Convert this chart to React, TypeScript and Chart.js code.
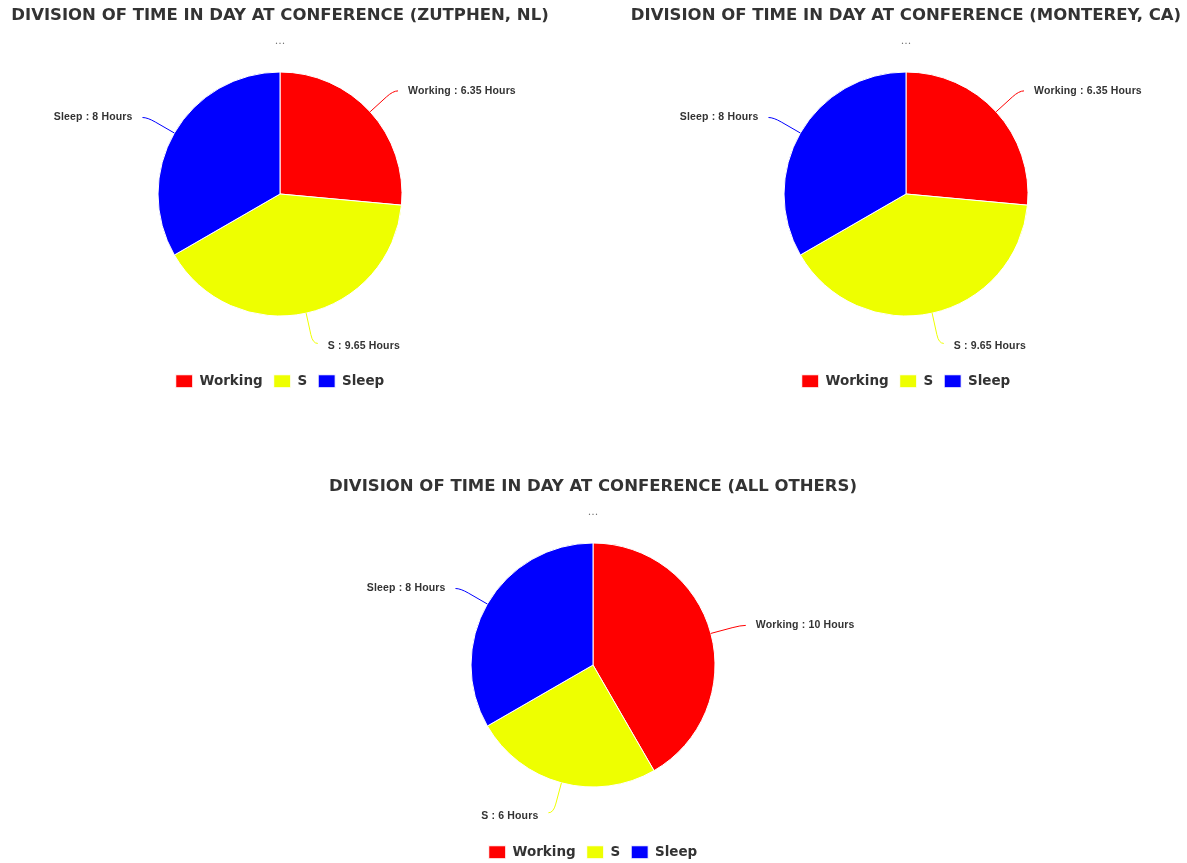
import React, { useEffect, useRef } from 'react';
import { Chart, registerables } from 'chart.js';

Chart.register(...registerables);

const categories = ['Working', 'S', 'Sleep'];
const zutphenHours = [6.35, 9.65, 8];
const montereyHours = [6.35, 9.65, 8];
const othersHours = [10, 6, 8];
const sliceColors = ['#FF0000', '#EEFF00', '#0000FF'];
const titleZutphen = 'DIVISION OF TIME IN DAY AT CONFERENCE (ZUTPHEN, NL)';
const titleMonterey = 'DIVISION OF TIME IN DAY AT CONFERENCE (MONTEREY, CA)';
const titleOthers = 'DIVISION OF TIME IN DAY AT CONFERENCE (ALL OTHERS)';
const subtitleText = '...';
const unitText = 'Hours';

const calloutPlugin = {
  id: 'callouts',
  afterDatasetsDraw(chart: any) {
    const ctx = chart.ctx;
    const meta = chart.getDatasetMeta(0);
    const ds = chart.data.datasets[0];
    const labels = chart.data.labels;
    ctx.save();
    meta.data.forEach((arc: any, i: number) => {
      const p = arc.getProps(['x', 'y', 'startAngle', 'endAngle', 'outerRadius'], true);
      const mid = (p.startAngle + p.endAngle) / 2;
      const cx = Math.cos(mid);
      const cy = Math.sin(mid);
      const r = p.outerRadius;
      const ex = p.x + r * cx;
      const ey = p.y + r * cy;
      const ax = p.x + (r + 22) * cx;
      const ay = p.y + (r + 22) * cy;
      const kx = p.x + (r + 31) * cx;
      const ky = p.y + (r + 31) * cy;
      const side = cx >= 0 ? 1 : -1;
      const endX = kx + side * 5;
      ctx.strokeStyle = ds.backgroundColor[i];
      ctx.lineWidth = 1;
      ctx.beginPath();
      ctx.moveTo(ex, ey);
      ctx.lineTo(ax, ay);
      ctx.quadraticCurveTo(kx, ky, endX, ky);
      ctx.stroke();
      ctx.fillStyle = '#333333';
      ctx.font = 'bold 10.5px "Liberation Sans", Arial, sans-serif';
      try { (ctx as any).letterSpacing = '0.15px'; } catch (e) {}
      ctx.textBaseline = 'middle';
      ctx.textAlign = side > 0 ? 'left' : 'right';
      const txt = `${labels[i]} : ${ds.data[i]} ${unitText}`;
      const ty = cy > 0.5 ? ky + 3 : ky;
      ctx.fillText(txt, endX + side * 10, ty);
    });
    ctx.restore();
  },
};

function PieChart({ title, values }: { title: string; values: number[] }) {
  const ref = useRef<HTMLCanvasElement | null>(null);
  useEffect(() => {
    if (!ref.current) return;
    const chart = new Chart(ref.current, {
      type: 'pie',
      data: {
        labels: categories,
        datasets: [
          {
            data: values,
            backgroundColor: sliceColors,
            borderColor: '#FFFFFF',
            borderWidth: 1,
          },
        ],
      },
      options: {
        animation: false,
        responsive: true,
        maintainAspectRatio: false,
        layout: { padding: 0 },
        plugins: {
          tooltip: { enabled: false },
          title: {
            display: true,
            text: title,
            color: '#333333',
            font: { family: '"DejaVu Sans", sans-serif', size: 16.5, weight: 'bold' },
            padding: { top: 5.5, bottom: 9 },
          },
          subtitle: {
            display: true,
            text: subtitleText,
            color: '#777777',
            font: { family: '"DejaVu Sans", sans-serif', size: 11 },
            padding: { top: 0, bottom: 24 },
          },
          legend: {
            display: true,
            position: 'bottom',
            title: { display: true, text: '', padding: { top: 35, bottom: 0 }, font: { size: 10 } },
            labels: {
              boxWidth: 17,
              boxHeight: 13,
              padding: 11,
              color: '#333333',
              font: { family: '"DejaVu Sans", sans-serif', size: 13.5, weight: 'bold' },
            },
          },
        },
      },
      plugins: [calloutPlugin],
    } as any);
    return () => chart.destroy();
  }, [title, values]);
  return <canvas ref={ref} />;
}

export default function App() {
  const box = (left: number, top: number): React.CSSProperties => ({
    position: 'absolute',
    left,
    top,
    width: 560,
    height: 398,
  });
  return (
    <div
      style={{
        position: 'fixed',
        left: 0,
        top: 0,
        width: 1187,
        height: 863,
        overflow: 'hidden',
        background: '#FFFFFF',
      }}
    >
      <div style={box(0, 0)}>
        <PieChart title={titleZutphen} values={zutphenHours} />
      </div>
      <div style={box(626, 0)}>
        <PieChart title={titleMonterey} values={montereyHours} />
      </div>
      <div style={box(313, 471)}>
        <PieChart title={titleOthers} values={othersHours} />
      </div>
    </div>
  );
}
